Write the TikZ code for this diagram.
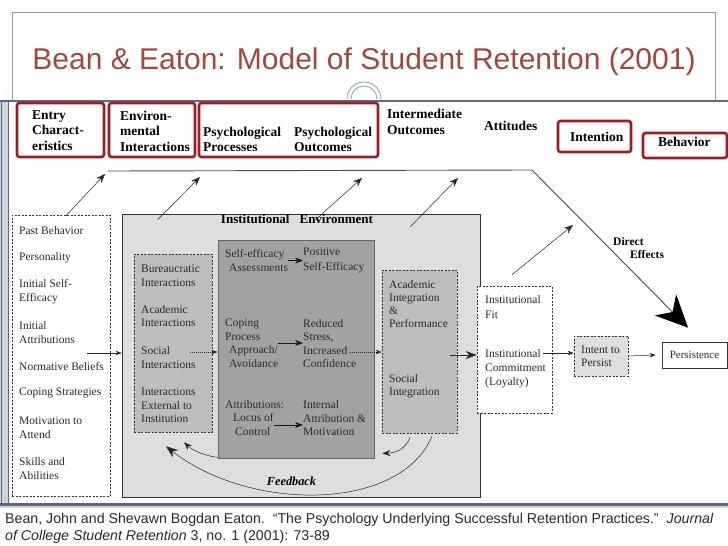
\documentclass[tikz,border=0pt]{standalone}
\usepackage{fontspec}
\setmainfont{Liberation Serif}
\newfontfamily\slidefont{Liberation Sans}
\usetikzlibrary{arrows.meta,positioning}
\definecolor{slidered}{HTML}{A4473B}
\definecolor{boxred}{HTML}{9E1B22}
\definecolor{framegrey}{HTML}{8AA3A3}
\definecolor{edgeblue}{HTML}{5E6880}
\definecolor{bandblue}{HTML}{CDD2DD}
\definecolor{envfill}{HTML}{DEDEDE}
\definecolor{midfill}{HTML}{BDBDBD}
\definecolor{darkfill}{HTML}{A2A2A2}
\definecolor{inkgrey}{HTML}{2A2A2A}

\begin{document}
\begin{tikzpicture}[x=1pt, y=-1pt,
    hdr/.style={font=\bfseries\fontsize{13.5}{15.5}\selectfont, align=left, anchor=west, inner sep=0pt},
    item/.style={font=\fontsize{11.5}{14}\selectfont, align=left, anchor=west, inner sep=0pt, text=inkgrey},
    redbox/.style={draw=boxred, line width=2.6pt, rounded corners=2.5pt, inner sep=0pt},
    dashbox/.style={draw=black!80, dash pattern=on 2pt off 1.5pt, line width=0.6pt, inner sep=0pt},
    solidbox/.style={draw=black!80, line width=0.7pt, inner sep=0pt},
    toparr/.style={-{Stealth[length=9pt,width=7pt]}, line width=0.5pt, black!85},
    flow/.style={-{Stealth[length=6pt,width=4.5pt]}, line width=0.5pt, black!85},
    dotflow/.style={flow, dash pattern=on 1pt off 1pt},
    inarr/.style={-{Stealth[length=8pt,width=6pt]}, line width=0.6pt, black!90},
    fbarr/.style={-{Stealth[length=8pt,width=6pt]}, line width=0.5pt, black!85}]

    \useasboundingbox (0,0) rectangle (728,546);
    \fill[white] (0,0) rectangle (728,546);

    % --- slide ---
    \draw[framegrey, line width=0.8pt] (12,101) -- (12,12) -- (715,12) -- (715,101);
    \node[font=\slidefont\fontsize{30}{36}\selectfont, text=slidered] (title) at (364,62)
        {Bean \& Eaton: Model of Student Retention (2001)};
    \draw[framegrey, line width=0.8pt] (347,99) arc[start angle=180, end angle=360, radius=17];
    \draw[framegrey, line width=0.8pt] (351,99) arc[start angle=180, end angle=360, radius=13];

    % --- scanned figure border ---
    \fill[bandblue] (0,101) rectangle (9,508);
    \fill[bandblue] (0,503) rectangle (728,508);
    \draw[edgeblue, line width=2pt] (0,101) -- (728,101);
    \draw[edgeblue, line width=1pt] (1.5,101) -- (1.5,506);
    \draw[edgeblue, line width=1.2pt] (8.5,101) -- (8.5,504);
    \draw[edgeblue, line width=3pt] (0,504) -- (728,504);

    % --- stage headers ---
    \node[redbox, minimum width=87pt, minimum height=54pt] (entryhdr) at (60.5,130) {};
    \node[redbox, minimum width=86pt, minimum height=54pt] (envhdr) at (152,130) {};
    \node[redbox, minimum width=179pt, minimum height=54pt] (psyhdr) at (288.5,130) {};
    \node[redbox, minimum width=73pt, minimum height=31pt] (intenthdr) at (594.5,136.5) {};
    \node[redbox, minimum width=84pt, minimum height=25pt] (behavhdr) at (685,145.5) {};
    \node[hdr] (entrytxt) at (32,130.5) {Entry\\Charact-\\eristics};
    \node[hdr] (envtxt) at (120,131) {Environ-\\mental\\Interactions};
    \node[hdr] (proctxt) at (203,139.5) {Psychological\\Processes};
    \node[hdr] (outctxt) at (294,139.5) {Psychological\\Outcomes};
    \node[hdr] (intermtxt) at (387,122) {Intermediate\\Outcomes};
    \node[hdr] (attitxt) at (484,126) {Attitudes};
    \node[hdr] (intenttxt) at (570,137) {Intention};
    \node[hdr] (behavtxt) at (658,142) {Behavior};

    % --- boxes ---
    \node[dashbox, minimum width=98pt, minimum height=281pt] (entrybox) at (61,355.5) {};
    \node[solidbox, fill=envfill, minimum width=358pt, minimum height=283pt] (inst) at (301,355.5) {};
    \node[dashbox, fill=midfill, minimum width=78pt, minimum height=178pt] (envint) at (173,343) {};
    \node[solidbox, draw=black!60, fill=darkfill, minimum width=156pt, minimum height=218pt] (psych) at (296,349) {};
    \node[dashbox, fill=midfill, minimum width=75pt, minimum height=163pt] (acad) at (419.5,351.5) {};
    \node[dashbox, fill=white, minimum width=75pt, minimum height=127pt] (fit) at (514.5,349.5) {};
    \node[dashbox, fill=envfill, minimum width=54pt, minimum height=40pt] (intent) at (601,356) {};
    \node[solidbox, minimum width=65pt, minimum height=26pt] (persist) at (694.5,355) {};

    \node[hdr, font=\bfseries\fontsize{13}{15}\selectfont, anchor=center] (insttxt) at (297,219)
        {Institutional\hspace{10pt}Environment};

    % entry characteristics
    \node[item] (pastb) at (19,231) {Past Behavior};
    \node[item] (person) at (19,258) {Personality};
    \node[item] (initse) at (19,292) {Initial Self-\\Efficacy};
    \node[item] (initat) at (19,332.5) {Initial\\Attributions};
    \node[item] (normb) at (19,367) {Normative Beliefs};
    \node[item] (copst) at (19,393) {Coping Strategies};
    \node[item] (motiv) at (19,428) {Motivation to\\Attend};
    \node[item] (skill) at (19,469) {Skills and\\Abilities};

    % environmental interactions
    \node[item, font=\fontsize{11.5}{13.5}\selectfont] (bureau) at (141,275.5) {Bureaucratic\\Interactions};
    \node[item, font=\fontsize{11.5}{13.5}\selectfont] (acadint) at (141,316) {Academic\\Interactions};
    \node[item, font=\fontsize{11.5}{13.5}\selectfont] (socint) at (141,357.5) {Social\\Interactions};
    \node[item, font=\fontsize{11.5}{13.5}\selectfont] (extint) at (141,405.5) {Interactions\\External to\\Institution};

    % psychological processes and outcomes
    \node[item, font=\fontsize{11.5}{14.5}\selectfont] (selfeff) at (225,260.5) {Self-efficacy\\\hspace*{4pt}Assessments};
    \node[item, font=\fontsize{11.5}{14.5}\selectfont] (positive) at (303,260.5) {Positive\\Self-Efficacy};
    \node[item, font=\fontsize{11.5}{13.5}\selectfont] (coping) at (225,343) {Coping\\Process\\\hspace*{4pt}Approach/\\\hspace*{4pt}Avoidance};
    \node[item, font=\fontsize{11.5}{13.5}\selectfont] (reduced) at (303,343.5) {Reduced\\Stress,\\Increased\\Confidence};
    \node[item] (attrib) at (225,405) {Attributions:};
    \node[item] (locus) at (233,425) {Locus of\\\hspace*{2pt}Control};
    \node[item, font=\fontsize{11.5}{13.5}\selectfont] (internal) at (303,418.5) {Internal\\Attribution \&\\Motivation};

    % integration, attitudes, outcome
    \node[item, font=\fontsize{11.5}{13}\selectfont] (acadtxt) at (389,304.5) {Academic\\Integration\\\&\\Performance};
    \node[item, font=\fontsize{11.5}{13}\selectfont] (soctxt) at (389,386.5) {Social\\Integration};
    \node[item, font=\fontsize{11.5}{15}\selectfont] (fittxt) at (485,307.5) {Institutional\\Fit};
    \node[item] (committxt) at (485,369) {Institutional\\Commitment\\(Loyalty)};
    \node[item, font=\fontsize{11.5}{13}\selectfont] (intenttx) at (581,356.5) {Intent to\\Persist};
    \node[item, font=\fontsize{11}{13}\selectfont, anchor=center] (persisttxt) at (persist) {Persistence};

    \node[hdr, font=\bfseries\fontsize{11.5}{13}\selectfont] (directtxt) at (613,248.5) {Direct\\\hspace*{17pt}Effects};
    \node[font=\bfseries\itshape\fontsize{12.3}{14}\selectfont, inner sep=0pt] (fbtxt) at (291.5,481) {Feedback};

    % --- links upward to the stage line ---
    \coordinate (topL) at (108,171);
    \coordinate (topR) at (532,170);
    \coordinate (up1) at (105,174);
    \coordinate (up2) at (200,177);
    \coordinate (up3) at (362,178);
    \coordinate (up4) at (458,178);
    \coordinate (up5) at (573,225);
    \draw[toparr] ([shift={(5,1)}]entrybox.north) -- (up1);
    \draw[toparr] ([shift={(36,6)}]inst.north west) -- (up2);
    \draw[toparr] ([shift={(194,6)}]inst.north west) -- (up3);
    \draw[toparr] ([shift={(-70,13)}]inst.north east) -- (up4);
    \draw[toparr] ([shift={(-2.5,-11)}]fit.north) -- (up5);

    % direct effects
    \draw[black!70, line width=0.9pt, -{Stealth[length=32pt,width=30pt,inset=10pt,color=black]}]
        (topL) -- (topR) -- ([shift={(-6.5,-14)}]persist.north);

    % --- flow through the model ---
    \coordinate (entryout) at (87,353);
    \coordinate (socialout) at (190,352);
    \coordinate (stressout) at (350,352);
    \coordinate (acadout) at (450,355);
    \coordinate (fitout) at (543,353);
    \draw[flow] (entryout) -- (entryout -| inst.west);
    \draw[dotflow] (socialout) -- (socialout -| psych.west);
    \draw[dotflow] (stressout) -- (stressout -| acad.west);
    \draw[-{Stealth[length=11pt,width=8pt]}, line width=0.5pt, black!85] (acadout) -- (acadout -| fit.west);
    \draw[flow] (fitout) -- (fitout -| intent.west);
    \draw[flow] (intent.east) -- ([xshift=-6pt]persist.west);

    \draw[inarr] (selfeff.east) -- (positive.west |- selfeff.east);
    \draw[inarr] (coping.east) -- (coping.east -| reduced.west);
    \draw[inarr] (locus.east) -- (locus.east -| internal.west);

    % feedback
    \draw[fbarr] ([shift={(-9.5,4)}]acad.south) .. controls (405,450) and (395,453) .. ([shift={(8,-5)}]psych.south east);
    \draw[fbarr] ([shift={(0,-1)}]psych.south west) .. controls (205,456) and (192,450) .. ([shift={(11,10)}]envint.south);
    \draw[-{Stealth[length=12pt,width=9pt]}, line width=0.5pt, black!85]
        ([shift={(12.5,3)}]acad.south) .. controls (400,512) and (250,512) .. ([shift={(-7,14)}]envint.south);

    % --- citation ---
    \node[font=\slidefont\fontsize{14.2}{17}\selectfont, text=inkgrey, align=left, anchor=west, inner sep=0pt] (cite) at (5,528.5)
        {Bean, John and Shevawn Bogdan Eaton.\ \ “The Psychology Underlying Successful Retention Practices.”\ \ \textit{Journal}\\
         \textit{of College Student Retention} 3, no. 1 (2001): 73-89};
\end{tikzpicture}
\end{document}
